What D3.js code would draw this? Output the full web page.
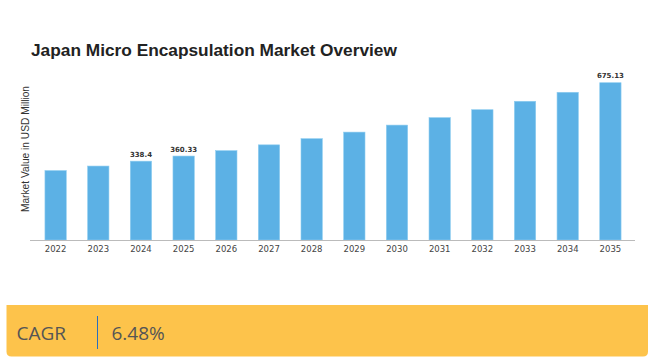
<!DOCTYPE html>
<html><head><meta charset="utf-8">
<script src="https://cdn.jsdelivr.net/npm/d3@7"></script>
<style>html,body{margin:0;padding:0;background:#fff;}svg{display:block;}</style>
</head><body>
<svg id="c" width="649" height="357"></svg>
<script>
const years = ["2022","2023","2024","2025","2026","2027","2028","2029","2030","2031","2032","2033","2034","2035"];
const values = [298.1, 317.4, 338.4, 360.33, 383.5, 408.4, 434.9, 463.1, 493.2, 525.1, 559.2, 595.4, 634.0, 675.13];
const labelled = ["2024","2025","2035"];
const valueLabels = {"2024":"338.4","2025":"360.33","2035":"675.13"};
const titleText = "Japan Micro Encapsulation Market Overview";
const yLabel = "Market Value in USD Million";
const cagrLabel = "CAGR";
const cagrValue = "6.48%";

const svg = d3.select("#c");
const baseY = 240;
const x = d3.scaleBand().domain(years).range([30, 636]).paddingInner(0.5).paddingOuter(0.35);
const y = d3.scaleLinear().domain([0, 675.13]).range([baseY, 82.7]);

svg.append("text").attr("x", 31).attr("y", 56)
  .attr("font-family", "Liberation Sans, Arial, sans-serif").attr("font-weight", "bold")
  .attr("font-size", 17.3).attr("fill", "#222").text(titleText);

svg.append("text").attr("transform", "translate(28.5,149) rotate(-90)")
  .attr("text-anchor", "middle")
  .attr("font-family", "Liberation Sans, Arial, sans-serif")
  .attr("font-size", 10.2).attr("fill", "#333").text(yLabel);

svg.selectAll("rect.bar").data(years).enter().append("rect").attr("class","bar")
  .attr("x", d => x(d)).attr("width", x.bandwidth())
  .attr("y", (d,i) => y(values[i])).attr("height", (d,i) => baseY - y(values[i]))
  .attr("fill", "#5cb1e5").attr("stroke", "#8fcdf0").attr("stroke-width", 0.6);

const ax = svg.append("g").attr("transform", `translate(0,${baseY})`)
  .call(d3.axisBottom(x).tickSize(0).tickPadding(6));
ax.select(".domain").attr("stroke", "#bbb").attr("stroke-width", 1).attr("d", "M30,0.5H635");
ax.selectAll("text").attr("font-family", "DejaVu Sans, sans-serif").attr("font-size", 8.5).attr("fill", "#444");

svg.selectAll("text.vl").data(labelled).enter().append("text").attr("class","vl")
  .attr("x", d => x(d) + x.bandwidth()/2)
  .attr("y", d => y(values[years.indexOf(d)]) - 4.5)
  .attr("text-anchor", "middle")
  .attr("font-family", "DejaVu Sans, sans-serif").attr("font-weight", "bold")
  .attr("font-size", 7).attr("fill", "#333").text(d => valueLabels[d]);

// CAGR box
const bx0 = 6.5, bx1 = 649, by0 = 305, by1 = 356.5, r = 5;
svg.append("path")
  .attr("d", `M${bx0},${by0}H${bx1-1}V${by1-r}Q${bx1-1},${by1} ${bx1-1-r},${by1}H${bx0+r}Q${bx0},${by1} ${bx0},${by1-r}Z`)
  .attr("fill", "#fdc34b");
svg.append("text").attr("x", 16.5).attr("y", 340)
  .attr("font-family", "Open Sans, sans-serif").attr("font-size", 19).attr("fill", "#555").text(cagrLabel);
svg.append("line").attr("x1", 97.5).attr("x2", 97.5).attr("y1", 316).attr("y2", 349)
  .attr("stroke", "#2a6ebd").attr("stroke-width", 1);
svg.append("text").attr("x", 111.5).attr("y", 340)
  .attr("font-family", "Open Sans, sans-serif").attr("font-size", 19).attr("fill", "#555").text(cagrValue);
</script>
</body></html>
